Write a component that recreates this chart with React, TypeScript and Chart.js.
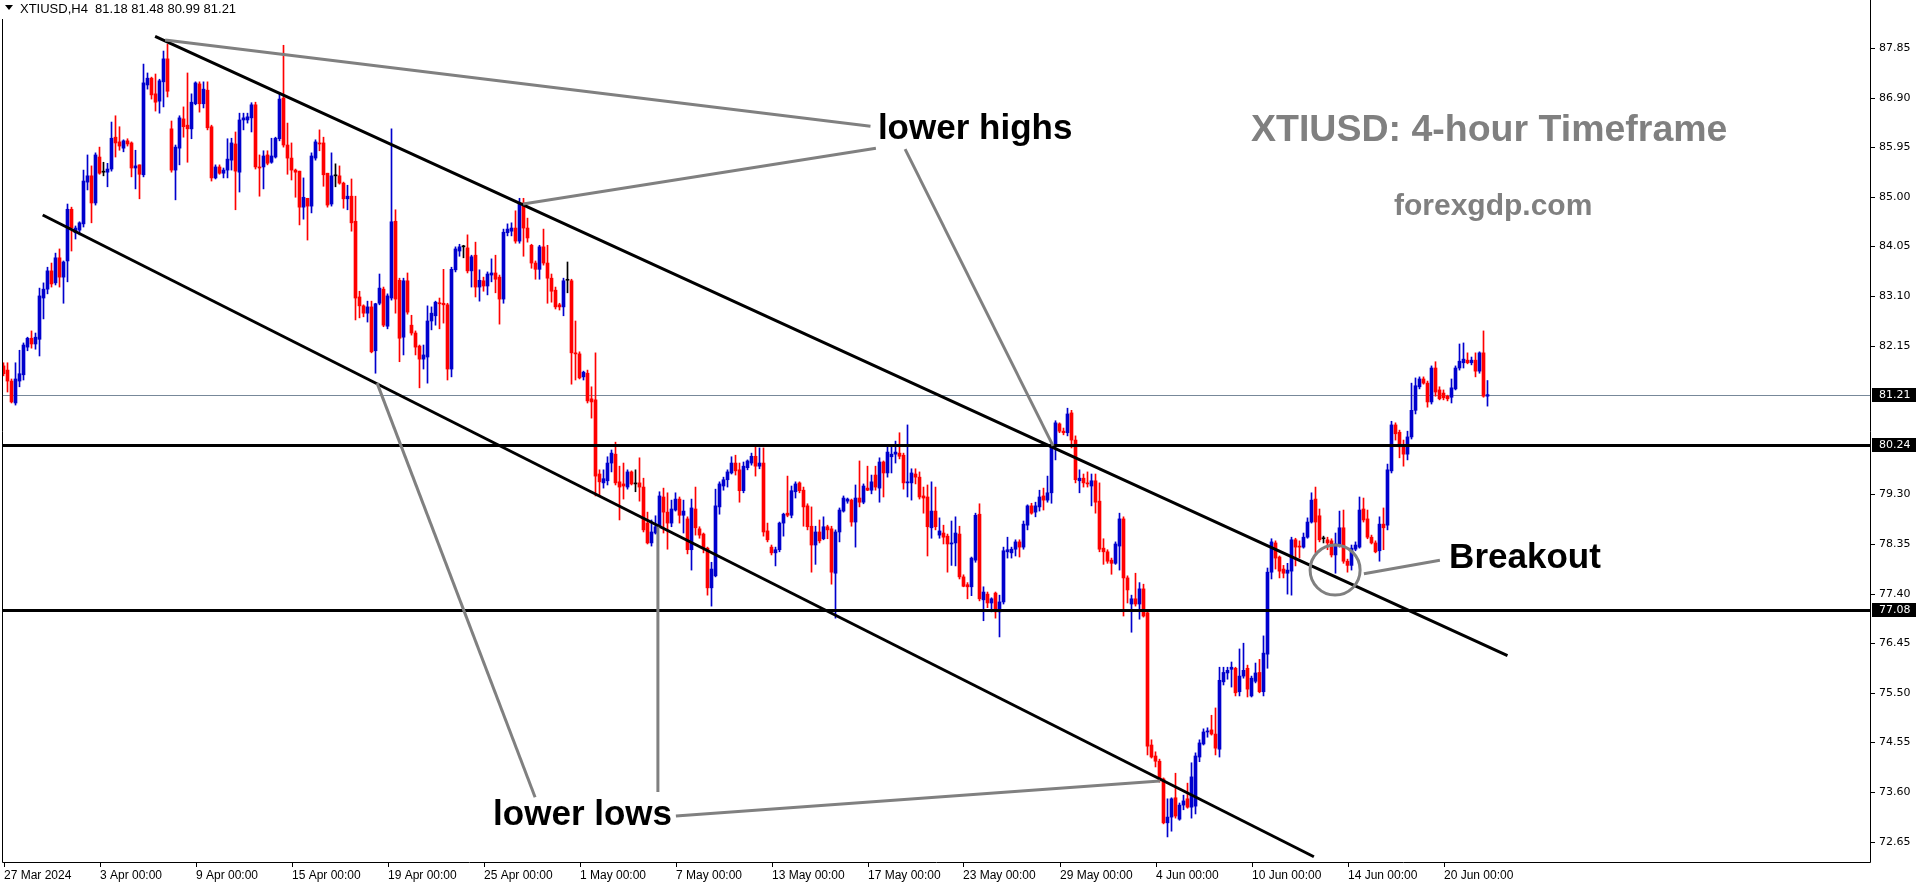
import React, { useEffect, useRef } from "react";
import { Chart, registerables } from "chart.js";

Chart.register(...registerables);

// ---------- candle data (XTIUSD H4) ----------
const opens = [
  81.76,81.68,81.47,81.05,81.47,81.59,82.12,82.29,82.18,82.27,
  83.06,83.23,83.58,83.35,83.83,83.46,83.77,84.76,84.31,84.36,
  84.48,85.28,85.40,84.88,85.76,85.47,85.47,85.53,86.14,86.05,
  85.93,86.07,86.03,85.55,85.61,85.42,87.14,87.27,86.97,86.83,
  87.20,87.64,86.30,85.51,85.93,86.49,86.37,86.30,86.78,87.16,
  86.78,87.04,86.34,85.36,85.57,85.45,85.51,85.70,86.01,85.47,
  86.47,86.47,86.51,86.76,85.57,85.57,85.80,85.66,85.76,86.11,
  86.89,85.99,85.74,85.51,85.49,84.80,84.97,84.82,85.74,86.03,
  86.03,85.45,84.86,85.40,85.40,85.26,84.96,85.01,84.53,83.08,
  82.91,82.77,82.89,82.05,82.96,83.23,82.52,83.06,84.53,83.40,
  82.31,83.39,82.54,82.39,82.14,81.89,81.93,82.62,82.72,82.96,
  82.96,82.93,81.70,83.60,83.96,84.04,84.02,83.58,83.88,83.27,
  83.39,83.29,83.50,83.54,83.46,83.04,84.31,84.34,84.40,84.15,
  84.88,84.40,84.07,83.73,83.61,84.04,83.73,83.44,83.21,82.93,
  82.89,83.40,83.39,82.01,81.99,81.55,81.62,81.13,81.11,79.69,
  79.52,79.56,79.90,80.07,79.54,79.50,79.44,79.73,79.50,79.52,
  79.44,78.75,78.37,78.56,78.68,79.25,78.96,78.75,79.00,79.21,
  78.90,78.83,78.24,79.02,78.64,78.54,78.27,77.51,77.74,79.06,
  79.46,79.58,79.71,79.90,79.77,79.37,79.81,79.90,80.03,79.84,
  79.90,78.60,78.29,78.18,78.24,78.75,78.94,78.90,79.35,79.52,
  79.38,79.08,78.69,78.33,78.58,78.45,78.68,78.64,77.79,78.58,
  78.98,79.17,79.19,78.77,79.23,79.15,79.42,79.38,79.67,79.42,
  79.92,79.71,80.02,80.07,80.09,80.05,79.52,79.52,79.69,79.63,
  79.27,79.25,78.66,78.98,78.52,78.56,78.50,78.35,78.37,78.54,
  77.72,77.57,77.53,78.04,78.92,77.28,77.39,77.22,77.41,77.05,
  77.24,78.20,78.18,78.25,78.39,78.29,78.71,79.08,78.96,79.06,
  79.27,79.19,79.33,80.25,80.65,80.51,80.48,80.86,80.34,79.56,
  79.61,79.52,79.46,79.56,79.17,78.27,78.20,78.04,77.98,78.31,
  78.83,77.70,77.20,77.30,77.20,77.49,77.03,74.50,74.29,74.19,
  73.85,73.01,73.12,73.49,73.08,73.35,73.47,73.31,73.33,74.27,
  74.52,74.75,74.79,74.71,74.42,75.71,75.88,75.95,75.97,75.52,
  75.82,75.97,75.44,75.72,75.89,75.52,76.24,77.81,78.37,78.10,
  77.87,77.79,77.83,78.43,78.31,78.29,78.48,78.77,79.21,78.89,
  78.45,78.43,78.41,78.14,78.33,78.66,78.02,77.94,78.25,78.29,
  79.02,78.83,78.48,78.37,78.22,78.73,78.71,79.75,80.63,80.49,
  80.21,80.07,80.40,80.91,81.36,81.51,81.43,81.07,81.72,81.30,
  81.24,81.18,81.16,81.32,81.72,81.82,81.87,81.82,81.87,81.66,
  82.01,81.18,
];

const highs = [
  81.82,81.82,81.51,81.82,82.06,82.20,82.31,82.43,82.39,83.25,
  83.35,83.65,83.73,83.92,84.00,83.77,84.86,84.80,84.44,84.52,
  85.51,85.80,85.59,85.84,85.95,85.66,85.64,86.43,86.55,86.34,
  86.09,86.11,86.05,85.89,85.61,87.54,87.37,87.29,87.35,87.25,
  87.79,87.92,86.45,85.99,86.55,86.72,87.37,86.97,87.20,87.20,
  87.20,87.20,86.37,85.61,85.61,85.55,86.11,86.12,86.24,86.60,
  86.60,86.60,86.80,86.81,85.80,85.88,85.88,86.12,86.14,87.00,
  87.90,86.41,86.03,85.53,85.49,85.36,84.97,85.84,86.09,86.28,
  86.14,85.45,85.84,85.63,85.59,85.28,85.22,85.34,85.01,83.19,
  82.93,83.00,83.00,82.96,83.52,83.27,83.14,86.30,84.75,83.44,
  83.44,83.54,82.73,82.43,82.16,82.16,82.91,82.89,83.00,83.06,
  83.61,82.96,83.65,84.04,84.09,84.07,84.27,83.88,84.13,83.60,
  83.46,83.56,83.81,83.88,83.50,84.38,84.48,84.50,84.73,84.97,
  84.97,84.59,84.09,83.77,84.07,84.38,84.07,83.52,83.27,82.96,
  83.44,83.75,83.42,82.62,82.03,81.66,81.68,81.36,82.01,79.77,
  79.77,80.02,80.15,80.30,79.84,79.90,79.77,79.75,79.77,80.00,
  79.61,78.96,78.81,78.89,79.35,79.42,79.33,79.19,79.33,79.25,
  79.19,78.87,79.21,79.44,78.68,78.56,78.29,78.00,79.40,79.54,
  79.63,79.77,80.02,80.05,79.90,79.92,79.96,80.09,80.21,80.19,
  80.19,78.75,78.33,78.29,78.77,78.94,79.65,79.46,79.54,79.54,
  79.44,79.12,79.06,78.69,78.81,78.87,78.71,78.69,78.62,79.04,
  79.27,79.23,79.21,79.48,79.94,79.50,79.84,79.67,79.84,80.00,
  79.94,80.21,80.25,80.32,80.48,80.09,80.63,79.79,79.79,79.73,
  79.44,79.48,79.54,79.44,78.85,78.71,78.54,78.79,78.87,78.69,
  77.76,77.61,78.10,78.94,79.12,77.53,77.43,77.32,77.43,77.37,
  78.29,78.48,78.29,78.43,78.43,78.79,79.10,79.13,79.15,79.38,
  79.42,79.65,80.28,80.71,80.67,80.57,80.95,80.91,80.42,79.77,
  79.69,79.73,79.69,79.69,79.52,78.45,78.24,78.08,78.39,78.94,
  78.87,77.74,77.37,77.79,77.61,77.58,77.05,74.60,74.37,74.23,
  73.87,73.47,73.49,73.96,73.39,73.54,73.77,74.16,74.35,74.60,
  74.81,74.83,75.07,75.21,75.99,75.99,75.99,76.09,75.99,76.34,
  76.45,76.03,75.82,76.07,76.14,76.59,77.89,78.45,78.41,78.12,
  77.94,77.98,78.48,78.46,78.41,78.56,78.85,79.33,79.44,79.02,
  78.50,78.48,78.45,78.56,78.98,79.00,78.06,78.33,78.39,79.25,
  79.23,79.00,78.52,78.41,78.87,79.04,79.88,80.70,80.67,80.53,
  80.34,80.51,81.43,81.53,81.55,81.55,81.47,81.76,81.84,81.36,
  81.30,81.20,81.51,81.76,82.18,82.20,82.01,81.93,82.01,82.03,
  82.43,81.48,
];

const lows = [
  81.57,81.26,81.05,81.01,81.36,81.49,82.05,82.10,82.08,81.95,
  82.66,83.14,83.27,83.31,83.27,82.96,83.37,83.96,84.19,84.27,
  84.42,85.13,84.50,84.84,85.43,85.40,85.19,85.49,85.76,85.89,
  85.86,85.97,85.38,85.15,84.96,85.38,87.06,86.87,86.64,86.60,
  86.72,86.91,85.47,84.94,85.61,86.14,85.66,86.11,86.76,86.62,
  86.70,86.28,85.30,85.34,85.43,85.36,85.36,85.51,84.75,85.09,
  86.28,86.41,86.24,85.53,85.01,85.15,85.61,85.64,85.74,86.07,
  85.95,85.43,85.32,84.99,84.46,84.57,84.17,84.69,85.70,85.88,
  85.20,84.80,84.82,85.19,85.24,84.78,84.75,84.34,82.64,82.68,
  82.70,82.60,82.01,81.62,82.93,82.51,82.47,83.02,82.77,81.84,
  81.97,82.75,82.35,81.97,81.34,81.70,81.43,82.45,82.54,82.47,
  82.58,81.49,81.55,83.56,83.86,83.83,83.54,83.27,83.08,83.00,
  83.19,83.12,83.37,83.16,82.56,82.96,84.25,84.25,84.11,84.11,
  83.86,84.13,83.63,83.42,83.42,83.69,82.96,82.98,82.85,82.83,
  82.72,83.16,81.41,81.49,81.51,81.49,81.05,80.76,79.27,79.29,
  79.42,79.48,79.73,79.48,78.81,79.21,79.40,79.48,79.35,79.17,
  78.58,78.35,78.31,78.54,78.66,78.56,78.25,78.68,78.98,78.75,
  78.56,78.16,77.85,78.52,78.46,78.18,77.37,77.16,77.72,78.92,
  79.38,79.44,79.69,79.67,79.15,79.33,79.77,79.86,79.65,79.79,
  78.50,78.39,78.14,77.93,78.20,78.50,78.87,78.85,79.23,79.33,
  78.69,78.62,77.81,77.96,78.37,78.43,78.45,77.58,76.93,78.39,
  78.96,79.13,78.69,78.29,79.06,79.12,79.37,79.31,79.38,79.15,
  79.25,79.63,79.71,79.90,79.98,79.40,79.25,79.19,79.50,79.21,
  78.94,78.12,78.46,78.62,78.46,78.35,77.81,77.94,77.93,77.68,
  77.53,77.30,77.36,78.00,77.26,76.88,77.13,77.05,76.93,76.57,
  77.20,78.08,78.08,78.12,78.10,78.25,78.62,78.92,78.87,78.98,
  79.00,79.15,79.13,79.96,80.48,80.44,80.42,80.19,79.52,79.33,
  79.44,79.44,79.08,78.94,78.20,77.96,77.98,77.77,77.96,77.85,
  76.97,77.22,76.66,77.16,76.91,76.95,74.31,74.25,74.08,73.79,
  72.99,72.74,72.85,73.10,73.06,73.26,73.29,73.10,73.18,74.18,
  74.50,74.65,74.69,74.31,74.27,75.65,75.76,75.61,75.44,75.44,
  75.78,75.42,75.42,75.69,75.50,75.44,75.97,77.68,77.87,77.70,
  77.70,77.39,77.37,77.93,78.08,78.27,78.46,78.75,78.18,78.39,
  78.37,78.24,78.10,77.79,78.29,77.98,77.81,77.85,78.22,78.27,
  78.77,78.45,78.35,78.18,78.02,78.24,78.62,79.71,80.34,80.00,
  79.84,79.96,80.36,80.84,81.32,81.41,80.97,81.03,81.18,81.11,
  81.11,81.09,81.05,81.30,81.68,81.72,81.80,81.78,81.55,81.62,
  81.16,80.99,
];

const closes = [
  81.61,81.47,81.07,81.51,81.61,82.16,82.29,82.18,82.31,83.10,
  83.23,83.58,83.33,83.83,83.46,83.75,84.76,84.40,84.40,84.50,
  85.30,85.40,84.88,85.80,85.45,85.47,85.53,86.12,86.03,85.97,
  86.07,86.01,85.55,85.59,85.43,87.18,87.27,86.95,86.81,87.22,
  87.64,87.02,85.51,85.95,86.51,86.34,86.30,86.81,87.18,86.78,
  87.06,86.32,85.36,85.57,85.45,85.51,85.72,86.03,85.49,86.47,
  86.51,86.53,86.76,85.57,85.55,85.78,85.64,85.78,86.12,86.87,
  85.99,85.74,85.51,85.47,84.80,84.99,84.82,85.78,86.05,86.01,
  85.42,84.84,85.40,85.40,85.26,84.96,85.01,84.50,83.06,82.91,
  82.77,82.89,82.03,82.95,83.25,82.54,83.10,84.52,83.04,82.29,
  83.39,82.79,82.39,82.12,81.89,81.97,82.62,82.77,82.98,82.95,
  82.93,81.70,83.61,84.00,84.04,84.04,83.58,83.85,83.27,83.40,
  83.29,83.52,83.54,83.42,83.04,84.32,84.38,84.40,84.15,84.88,
  84.40,84.21,83.73,83.61,84.04,83.73,83.44,83.19,82.89,82.89,
  83.39,83.40,82.01,81.99,81.53,81.64,81.09,81.07,79.65,79.54,
  79.60,79.90,80.09,79.52,79.44,79.46,79.73,79.50,79.50,79.44,
  78.62,78.37,78.58,78.68,79.27,78.96,78.75,79.02,79.21,78.90,
  78.98,78.24,79.04,78.66,78.52,78.27,77.51,77.87,79.08,79.50,
  79.58,79.73,79.90,79.75,79.37,79.84,79.94,80.03,79.84,79.90,
  78.58,78.43,78.18,78.24,78.75,78.92,78.90,79.37,79.50,79.37,
  79.06,78.68,78.33,78.58,78.41,78.68,78.62,77.81,78.58,79.00,
  79.23,79.21,78.77,79.23,79.15,79.46,79.38,79.54,79.44,79.92,
  79.71,80.11,80.07,80.11,80.03,79.52,79.54,79.71,79.63,79.25,
  79.23,78.68,78.98,78.68,78.60,78.48,78.35,78.37,78.56,77.72,
  77.54,77.53,78.08,78.90,77.30,77.43,77.22,77.30,77.05,77.24,
  78.22,78.24,78.25,78.39,78.29,78.73,79.08,78.94,79.08,79.25,
  79.19,79.33,80.25,80.67,80.51,80.48,80.84,80.34,79.58,79.61,
  79.52,79.50,79.56,79.15,78.25,78.20,78.02,77.98,78.35,78.83,
  77.70,77.47,77.30,77.20,77.49,76.97,74.48,74.27,74.19,73.83,
  73.01,73.12,73.47,73.14,73.35,73.43,73.31,73.89,74.29,74.54,
  74.75,74.77,74.71,74.44,75.74,75.89,75.93,75.99,75.50,75.82,
  75.93,75.57,75.78,75.88,75.52,76.26,77.81,78.39,78.08,77.83,
  77.79,77.85,78.43,78.29,78.29,78.48,78.77,79.19,78.77,78.43,
  78.45,78.37,78.14,78.35,78.66,78.02,77.94,78.27,78.33,79.00,
  78.81,78.48,78.37,78.20,78.73,78.66,79.77,80.63,80.46,80.21,
  80.07,80.40,80.91,81.38,81.51,81.43,81.07,81.72,81.26,81.13,
  81.15,81.13,81.34,81.72,81.85,81.89,81.82,81.87,81.66,82.01,
  81.18,81.21,
];

// ---------- axes ----------
const xTickIndex = [0, 24, 48, 72, 96, 120, 144, 168, 192, 216, 240, 264, 288, 312, 336, 360];
const xTickLabels = [
  "27 Mar 2024", "3 Apr 00:00", "9 Apr 00:00", "15 Apr 00:00", "19 Apr 00:00",
  "25 Apr 00:00", "1 May 00:00", "7 May 00:00", "13 May 00:00", "17 May 00:00",
  "23 May 00:00", "29 May 00:00", "4 Jun 00:00", "10 Jun 00:00", "14 Jun 00:00",
  "20 Jun 00:00",
];
const yTickValues = [87.85, 86.9, 85.95, 85.0, 84.05, 83.1, 82.15, 79.3, 78.35, 77.4, 76.45, 75.5, 74.55, 73.6, 72.65];

// ---------- drawn objects (in bar index / price units) ----------
const levelLines = [80.24, 77.08];
const lastPrice = 81.21;
const headerText = "XTIUSD,H4  81.18 81.48 80.99 81.21";
const upperChannel = [[37.9, 88.07], [376.0, 76.21]];
const lowerChannel = [[9.8, 84.65], [327.6, 72.36]];
const pointerLines = [
  [[40.4, 88.0], [216.75, 86.35]],
  [[129.9, 84.86], [218.1, 85.93]],
  [[225.4, 85.91], [262.4, 80.23]],
  [[168.1, 73.14], [289.1, 73.81]],
  [[163.6, 78.68], [163.6, 73.6]],
  [[93.4, 81.43], [132.9, 73.5]],
  [[340.1, 77.78], [359.1, 78.04]],
];
const breakoutCircle = [332.9, 77.85];
const noteLabels = [
  { text: "lower highs", at: [218.6, 86.105] },
  { text: "lower lows", at: [122.4, 72.97] },
  { text: "Breakout", at: [361.4, 77.89] },
];

const BULL = "#0000CD";
const BEAR = "#FF0000";
const DOJI = "#000000";

export default function App() {
  const ref = useRef(null);

  useEffect(() => {
    document.body.style.margin = "0";
    const canvas = ref.current;
    const colors = closes.map((c, i) => (c > opens[i] ? BULL : c < opens[i] ? BEAR : DOJI));

    const mt4Plugin = {
      id: "mt4",
      beforeDatasetsDraw(chart) {
        const { ctx, chartArea: a, scales } = chart;
        const py = Math.round(scales.y.getPixelForValue(lastPrice)) + 0.5;
        ctx.save();
        ctx.strokeStyle = "#778899";
        ctx.lineWidth = 1;
        ctx.beginPath();
        ctx.moveTo(a.left, py);
        ctx.lineTo(a.right, py);
        ctx.stroke();
        ctx.restore();
      },
      afterDatasetsDraw(chart) {
        const { ctx, chartArea: a, scales } = chart;
        const X = (v) => scales.x.getPixelForValue(v);
        const Y = (v) => scales.y.getPixelForValue(v);
        ctx.save();
        ctx.beginPath();
        ctx.rect(a.left, a.top, a.right - a.left, a.bottom - a.top);
        ctx.clip();
        ctx.lineCap = "butt";
        ctx.strokeStyle = "#000";
        ctx.lineWidth = 3;
        levelLines.forEach((lv) => {
          const py = Math.round(Y(lv)) + 0.5;
          ctx.beginPath();
          ctx.moveTo(a.left, py);
          ctx.lineTo(a.right, py);
          ctx.stroke();
        });
        [upperChannel, lowerChannel].forEach((ln) => {
          ctx.beginPath();
          ctx.moveTo(X(ln[0][0]), Y(ln[0][1]));
          ctx.lineTo(X(ln[1][0]), Y(ln[1][1]));
          ctx.stroke();
        });
        ctx.strokeStyle = "#808080";
        ctx.lineWidth = 3;
        pointerLines.forEach((ln) => {
          ctx.beginPath();
          ctx.moveTo(X(ln[0][0]), Y(ln[0][1]));
          ctx.lineTo(X(ln[1][0]), Y(ln[1][1]));
          ctx.stroke();
        });
        ctx.beginPath();
        ctx.arc(X(breakoutCircle[0]), Y(breakoutCircle[1]), 25, 0, Math.PI * 2);
        ctx.stroke();
        ctx.fillStyle = "#000";
        ctx.font = "bold 35px 'Liberation Sans', Arial, sans-serif";
        ctx.textBaseline = "alphabetic";
        ctx.textAlign = "left";
        noteLabels.forEach((n) => ctx.fillText(n.text, X(n.at[0]), Y(n.at[1])));
        ctx.fillStyle = "#808080";
        ctx.font = "bold 37.5px 'Liberation Sans', Arial, sans-serif";
        ctx.fillText("XTIUSD: 4-hour Timeframe", 1251, 141);
        ctx.font = "bold 30px 'Liberation Sans', Arial, sans-serif";
        ctx.fillText("forexgdp.com", 1394, 215);
        ctx.restore();
      },
      afterDraw(chart) {
        const { ctx, chartArea: a, scales } = chart;
        const X = (v) => scales.x.getPixelForValue(v);
        const Y = (v) => scales.y.getPixelForValue(v);
        ctx.save();
        ctx.strokeStyle = "#000";
        ctx.lineWidth = 1;
        ctx.beginPath();
        ctx.moveTo(a.left + 0.5, 0);
        ctx.lineTo(a.left + 0.5, a.bottom + 0.5);
        ctx.lineTo(a.right + 0.5, a.bottom + 0.5);
        ctx.lineTo(a.right + 0.5, 0);
        ctx.stroke();
        ctx.font = "11px 'DejaVu Sans', Verdana, sans-serif";
        ctx.textBaseline = "middle";
        ctx.textAlign = "left";
        ctx.fillStyle = "#000";
        yTickValues.forEach((v) => {
          const py = Math.round(Y(v)) + 0.5;
          ctx.beginPath();
          ctx.moveTo(a.right, py);
          ctx.lineTo(a.right + 5, py);
          ctx.stroke();
          ctx.fillText(v.toFixed(2), a.right + 9, py);
        });
        [lastPrice, ...levelLines].forEach((v) => {
          const py = Math.round(Y(v));
          ctx.fillStyle = "#000";
          ctx.fillRect(a.right + 2, py - 7, 1916 - a.right - 2, 14);
          ctx.fillStyle = "#fff";
          ctx.fillText(v.toFixed(2), a.right + 9, py + 0.5);
        });
        ctx.fillStyle = "#000";
        ctx.font = "12px 'Liberation Sans', Tahoma, sans-serif";
        ctx.textBaseline = "middle";
        xTickIndex.forEach((idx, k) => {
          const px = Math.round(X(idx)) + 0.5;
          ctx.beginPath();
          ctx.moveTo(px, a.bottom);
          ctx.lineTo(px, a.bottom + 5);
          ctx.stroke();
          ctx.fillText(xTickLabels[k], px - 0.5, a.bottom + 14);
        });
        ctx.fillStyle = "#fff";
        ctx.fillRect(0, 0, 240, 19);
        ctx.fillStyle = "#000";
        ctx.beginPath();
        ctx.moveTo(5, 5);
        ctx.lineTo(13, 5);
        ctx.lineTo(9, 10);
        ctx.closePath();
        ctx.fill();
        ctx.font = "13px 'Liberation Sans', Tahoma, sans-serif";
        ctx.textBaseline = "alphabetic";
        ctx.fillText(headerText, 20, 13);
        ctx.restore();
      },
    };

    const chart = new Chart(canvas, {
      type: "bar",
      data: {
        datasets: [
          {
            label: "wick",
            data: lows.map((l, i) => ({ x: i, y: [l, highs[i]] })),
            backgroundColor: colors,
            borderWidth: 0,
            barThickness: 1,
            grouped: false,
            order: 2,
          },
          {
            label: "body",
            data: opens.map((o, i) => ({ x: i, y: [Math.min(o, closes[i]), Math.max(o, closes[i])] })),
            backgroundColor: colors,
            borderWidth: 0,
            barThickness: 3,
            minBarLength: 1,
            grouped: false,
            order: 1,
          },
        ],
      },
      options: {
        animation: false,
        responsive: false,
        devicePixelRatio: 1,
        events: [],
        layout: { padding: { left: 2, right: 46, top: 1, bottom: 22 } },
        plugins: { legend: { display: false }, tooltip: { enabled: false } },
        scales: {
          x: {
            type: "linear", min: -0.375, max: 466.625, offset: false, bounds: "data", grace: 0,
            display: false,
            afterDataLimits: (s) => { s.min = -0.375; s.max = 466.625; },
          },
          y: {
            type: "linear", min: 72.26, max: 88.748, offset: false, grace: 0, display: false,
            afterDataLimits: (s) => { s.min = 72.26; s.max = 88.748; },
          },
        },
      },
      plugins: [mt4Plugin],
    });
    return () => chart.destroy();
  }, []);

  return (
    <div style={{ position: "absolute", left: 0, top: 0, width: 1916, height: 884, background: "#fff" }}>
      <canvas ref={ref} width={1916} height={884} style={{ display: "block" }} />
    </div>
  );
}
